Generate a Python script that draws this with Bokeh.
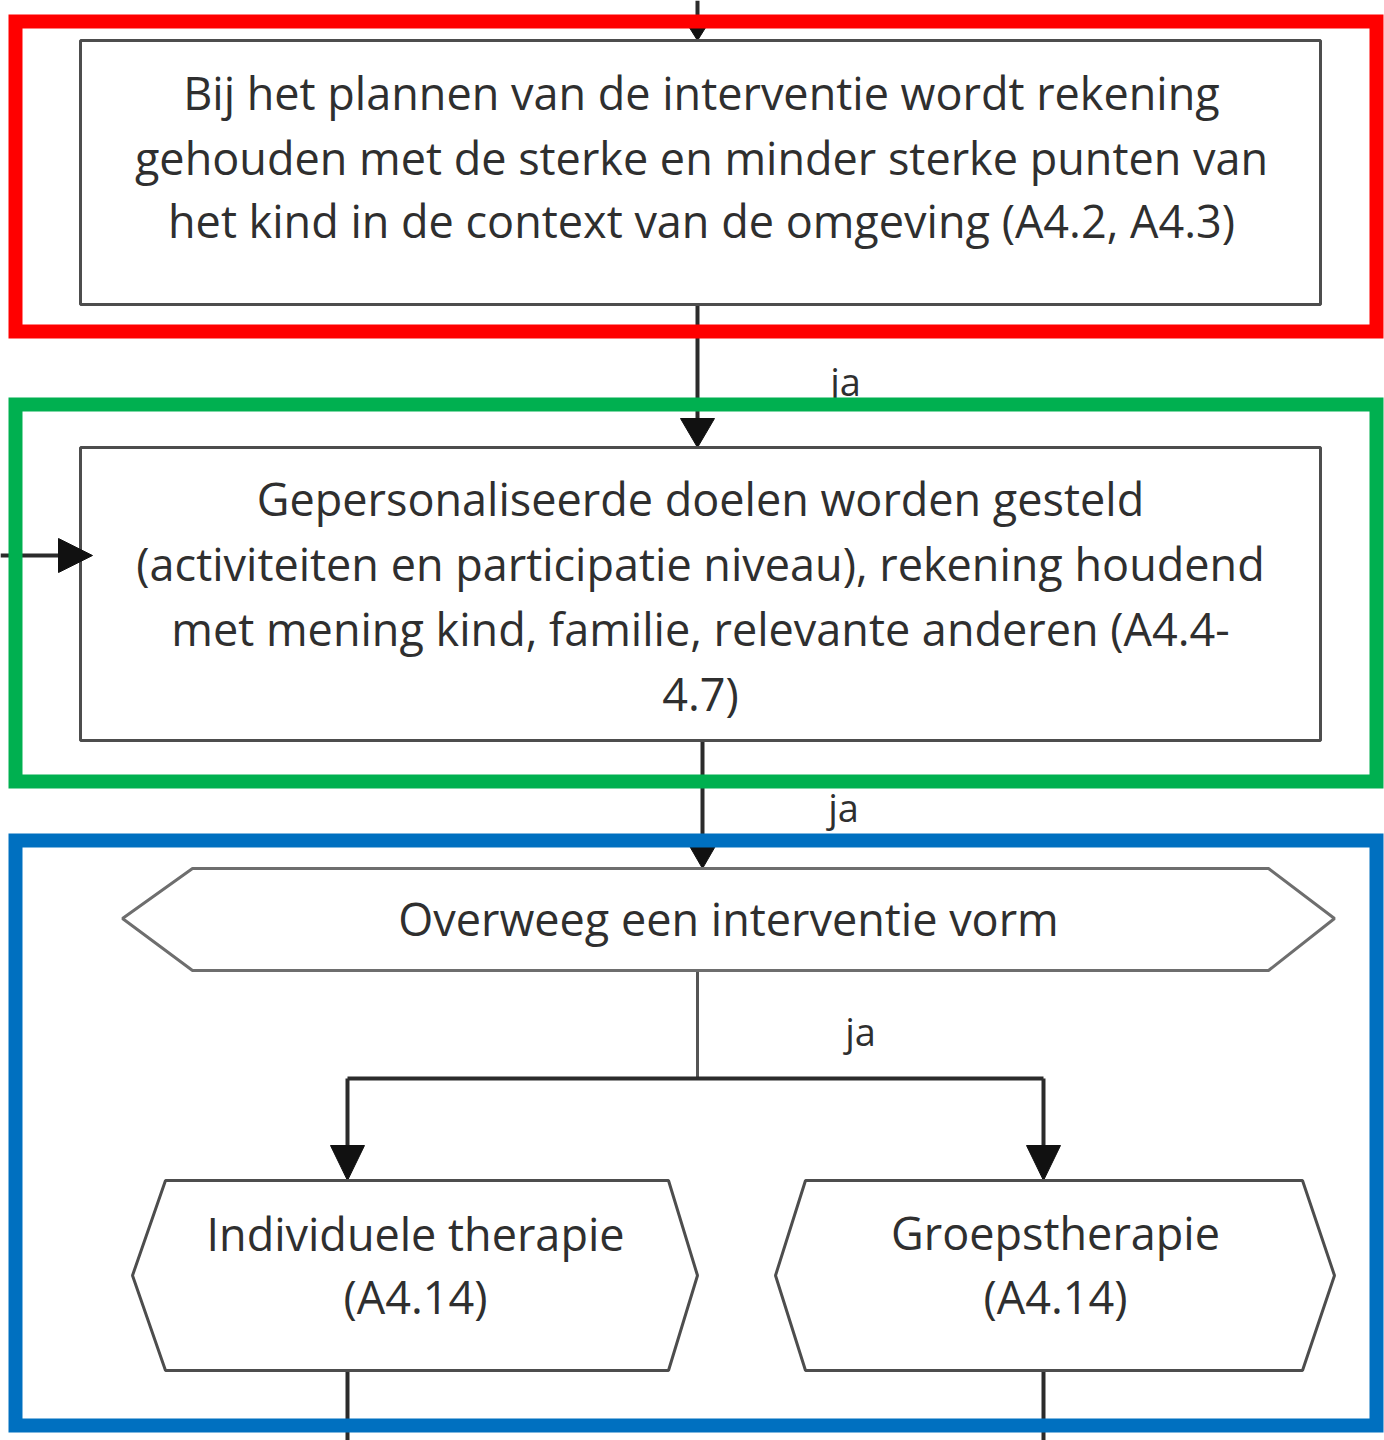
from bokeh.plotting import figure
from bokeh.models import Range1d
from bokeh.core.properties import value
from bokeh.embed import file_html
from bokeh.resources import INLINE

# ---- content (texts) ----
box1_lines = ["Bij het plannen van de interventie wordt rekening",
              "gehouden met de sterke en minder sterke punten van",
              "het kind in de context van de omgeving (A4.2, A4.3)"]
box2_lines = ["Gepersonaliseerde doelen worden gesteld",
              "(activiteiten en participatie niveau), rekening houdend",
              "met mening kind, familie, relevante anderen (A4.4-",
              "4.7)"]
hex1_lines = ["Overweeg een interventie vorm"]
hex2_lines = ["Individuele therapie", "(A4.14)"]
hex3_lines = ["Groepstherapie", "(A4.14)"]
edge_labels = ["ja", "ja", "ja"]

# ---- layout (page pixel coordinates) ----
W, H = 1384, 1440
FONT = "Open Sans"
FS = "45px"
TXT = "#2f2f2f"

p = figure(width=W, height=H, output_backend="svg", toolbar_location=None,
           x_range=Range1d(0, W), y_range=Range1d(H, 0),
           min_border=0, outline_line_color=None, background_fill_color="white")
p.axis.visible = False
p.grid.visible = False

def seg(xs, ys, color="#2b2b2b", w=4):
    p.line(xs, ys, line_color=color, line_width=w)

def head_down(x, tip, base, hw, color="#111111"):
    p.patch([x - hw, x + hw, x], [base, base, tip], fill_color=color, line_color=color)

def head_right(y, tip, base, hh, color="#111111"):
    p.patch([base, base, tip], [y - hh, y + hh, y], fill_color=color, line_color=color)

def lines_text(xc, ys, lines, size=FS):
    p.text(x=[xc] * len(lines), y=ys, text=lines, text_align="center",
           text_baseline="middle", text_font=value(FONT), text_font_size=size,
           text_color=TXT)

# connectors
seg([697, 697], [0, 30])
head_down(697, 40, 24, 10)
seg([697, 697], [304, 425])
head_down(697, 447, 418, 17)
seg([702, 702], [740, 848])
head_down(702, 868, 842, 15)
seg([697, 697], [970, 1078], color="#555555", w=3)
seg([347, 1043], [1078, 1078])
seg([347, 347], [1078, 1150])
seg([1043, 1043], [1078, 1150])
head_down(347, 1180, 1145, 17)
head_down(1043, 1180, 1145, 17)
seg([347, 347], [1370, 1440])
seg([1043, 1043], [1370, 1440])

# boxes
p.quad(left=[80, 80], right=[1320, 1320], top=[40, 447], bottom=[304, 740],
       fill_color="white", line_color="#4d4d4d", line_width=3)

# incoming arrow from the left (drawn over the box edge)
seg([0, 60], [555, 555])
head_right(555, 92, 58, 17)

# hexagons
p.patch([122, 192, 1268, 1334, 1268, 192], [918, 868, 868, 918, 970, 970],
        fill_color="white", line_color="#6e6e6e", line_width=3)
p.patch([132, 165, 668, 697, 668, 165], [1275, 1180, 1180, 1275, 1370, 1370],
        fill_color="white", line_color="#4d4d4d", line_width=3)
p.patch([775, 805, 1302, 1334, 1302, 805], [1275, 1180, 1180, 1275, 1370, 1370],
        fill_color="white", line_color="#4d4d4d", line_width=3)

# texts
lines_text(701, [92, 157, 220], box1_lines)
lines_text(700, [498, 563, 628, 693], box2_lines)
lines_text(728, [918], hex1_lines)
lines_text(415, [1233, 1296], hex2_lines)
lines_text(1055, [1232, 1296], hex3_lines)
p.text(x=[845, 843, 860], y=[380, 806, 1030], text=edge_labels, text_align="center",
       text_baseline="middle", text_font=value(FONT), text_font_size="38px",
       text_color=TXT)

# highlight frames
p.quad(left=[15, 15, 15], right=[1376, 1376, 1376], top=[21, 404, 840],
       bottom=[331, 781, 1425], fill_color=None,
       line_color=["#ff0000", "#00b050", "#0070c0"], line_width=14,
       line_join="miter")

open("out.html", "w").write(file_html(p, INLINE))
